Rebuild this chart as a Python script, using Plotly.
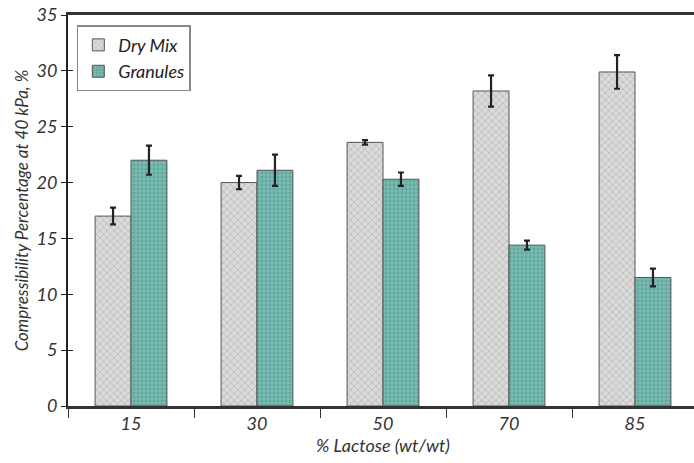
import plotly.graph_objects as go

categories = ["15", "30", "50", "70", "85"]
dry_mix = [17.0, 20.0, 23.6, 28.2, 29.9]
dry_mix_err = [0.75, 0.6, 0.2, 1.4, 1.5]
granules = [22.0, 21.1, 20.3, 14.4, 11.5]
granules_err = [1.3, 1.4, 0.6, 0.4, 0.8]
y_ticks = [0, 5, 10, 15, 20, 25, 30, 35]

FONT = "Lato"
tickf = dict(family=FONT, size=18, color="#333", style="italic")

fig = go.Figure()
fig.add_trace(go.Bar(
    name="Dry Mix", x=categories, y=dry_mix,
    error_y=dict(type="data", array=dry_mix_err, color="#222", thickness=2.2, width=3),
    marker=dict(color="#d4d4d4", line=dict(color="#555", width=1),
                pattern=dict(shape="x", fgcolor="#9c9c9c", bgcolor="#dadada", size=5, solidity=0.3)),
))
fig.add_trace(go.Bar(
    name="Granules", x=categories, y=granules,
    error_y=dict(type="data", array=granules_err, color="#222", thickness=2.2, width=3),
    marker=dict(color="#72b6ae", line=dict(color="#555", width=1),
                pattern=dict(shape=".", fgcolor="#4a8f88", bgcolor="#78bab2", size=4, solidity=0.4)),
))
# invisible trace for the inner y tick marks
fig.add_trace(go.Scatter(x=categories[:1], y=[0], yaxis="y2", mode="markers",
                         marker=dict(opacity=0), showlegend=False, hoverinfo="skip"))

fig.update_layout(
    width=698, height=463,
    margin=dict(l=68, r=0, t=15, b=57),
    paper_bgcolor="white", plot_bgcolor="white",
    barmode="group", bargap=0.43, bargroupgap=0,
    showlegend=True,
    legend=dict(x=0.014, y=0.974, xanchor="left", yanchor="top",
                bordercolor="#888", borderwidth=1.5, bgcolor="white",
                font=dict(family=FONT, size=18, color="#222", style="italic"),
                itemwidth=30),
    xaxis=dict(
        type="category", showline=True, linecolor="#333", linewidth=2.5, mirror=True,
        ticks="outside", ticklen=9, tickcolor="#333", tickson="boundaries",
        tickfont=tickf, showgrid=False, automargin=False, zeroline=False,
        title=dict(text="% Lactose (wt/wt)",
                   font=dict(family=FONT, size=18, color="#333", style="italic"), standoff=4),
    ),
    yaxis=dict(
        range=[0, 35], tickvals=y_ticks, showline=True, linecolor="#222", linewidth=2,
        ticks="outside", ticklen=5, tickcolor="#222", tickfont=tickf, showgrid=False,
        zeroline=False, automargin=False, mirror=False,
        title=dict(text="Compressibility Percentage at 40 kPa, %",
                   font=dict(family=FONT, size=17, color="#333", style="italic"), standoff=4),
    ),
    yaxis2=dict(
        range=[0, 35], tickvals=y_ticks, overlaying="y", side="left", anchor="x",
        ticks="inside", ticklen=5, tickcolor="#222", showticklabels=False,
        showgrid=False, zeroline=False, showline=False, automargin=False, mirror=False,
    ),
)

fig.write_html("out.html", config={"displayModeBar": False},
               post_script="document.body.style.margin='0px';document.body.style.overflow='hidden';")
